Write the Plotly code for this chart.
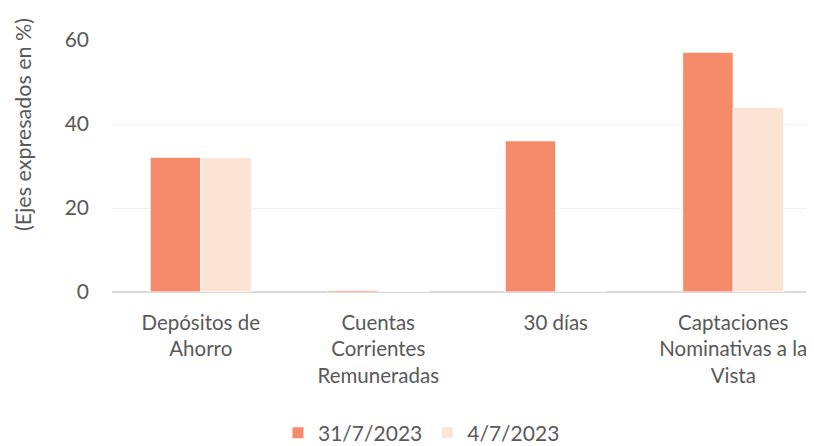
import plotly.graph_objects as go

categories = ["Depósitos de<br>Ahorro", "Cuentas<br>Corrientes<br>Remuneradas", "30 días",
              "Captaciones<br>Nominativas a la<br>Vista"]
series_names = ["31/7/2023", "4/7/2023"]
values_jul31 = [32.1, 0.4, 36.0, 57.1]
values_jul4 = [32.0, 0.25, 0.0, 44.0]
y_ticks = [0, 20, 40, 60]

font_fam = "Lato, 'Open Sans', sans-serif"
txt_col = "#595959"

fig = go.Figure()
fig.add_trace(go.Bar(x=list(range(4)), y=values_jul31, name=series_names[0],
                     marker=dict(color="#F58B6B", line=dict(color="#FFFFFF", width=1))))
fig.add_trace(go.Bar(x=list(range(4)), y=values_jul4, name=series_names[1],
                     marker=dict(color="#FBE4D6", line=dict(color="#FFFFFF", width=1))))

# page body has an 8px default margin, so the figure is 8px smaller and offset
fig.update_layout(
    width=806, height=438,
    margin=dict(l=104, r=0, t=32, b=154, autoexpand=False),
    plot_bgcolor="white", paper_bgcolor="white",
    barmode="group", bargap=0.43, bargroupgap=0,
    font=dict(family=font_fam, size=21, color=txt_col),
    legend=dict(orientation="h", x=(278 - 112) / 702, xanchor="left", y=-0.56, yanchor="middle",
                font=dict(size=21, color=txt_col), traceorder="normal"),
    showlegend=True,
)
fig.update_xaxes(tickvals=list(range(4)), ticktext=categories, range=[-0.5, 3.455],
                 showgrid=False, showline=False, ticks="", tickfont=dict(size=20.5, color=txt_col),
                 tickangle=0, automargin=False, ticklabelstandoff=16)
fig.update_yaxes(range=[0, 60], tickvals=y_ticks, showgrid=True, gridcolor="#F2F2F2", gridwidth=1,
                 zeroline=True, zerolinecolor="#D9D9D9", zerolinewidth=2, showline=False,
                 tickfont=dict(size=21, color=txt_col), ticklabelstandoff=22, automargin=False)
fig.add_annotation(text="(Ejes expresados en %)", xref="paper", yref="paper",
                   x=(23 - 112) / 702, y=0.667, xanchor="center", yanchor="middle", textangle=-90,
                   showarrow=False, font=dict(size=21.5, color=txt_col))

fig.write_html("out.html")
